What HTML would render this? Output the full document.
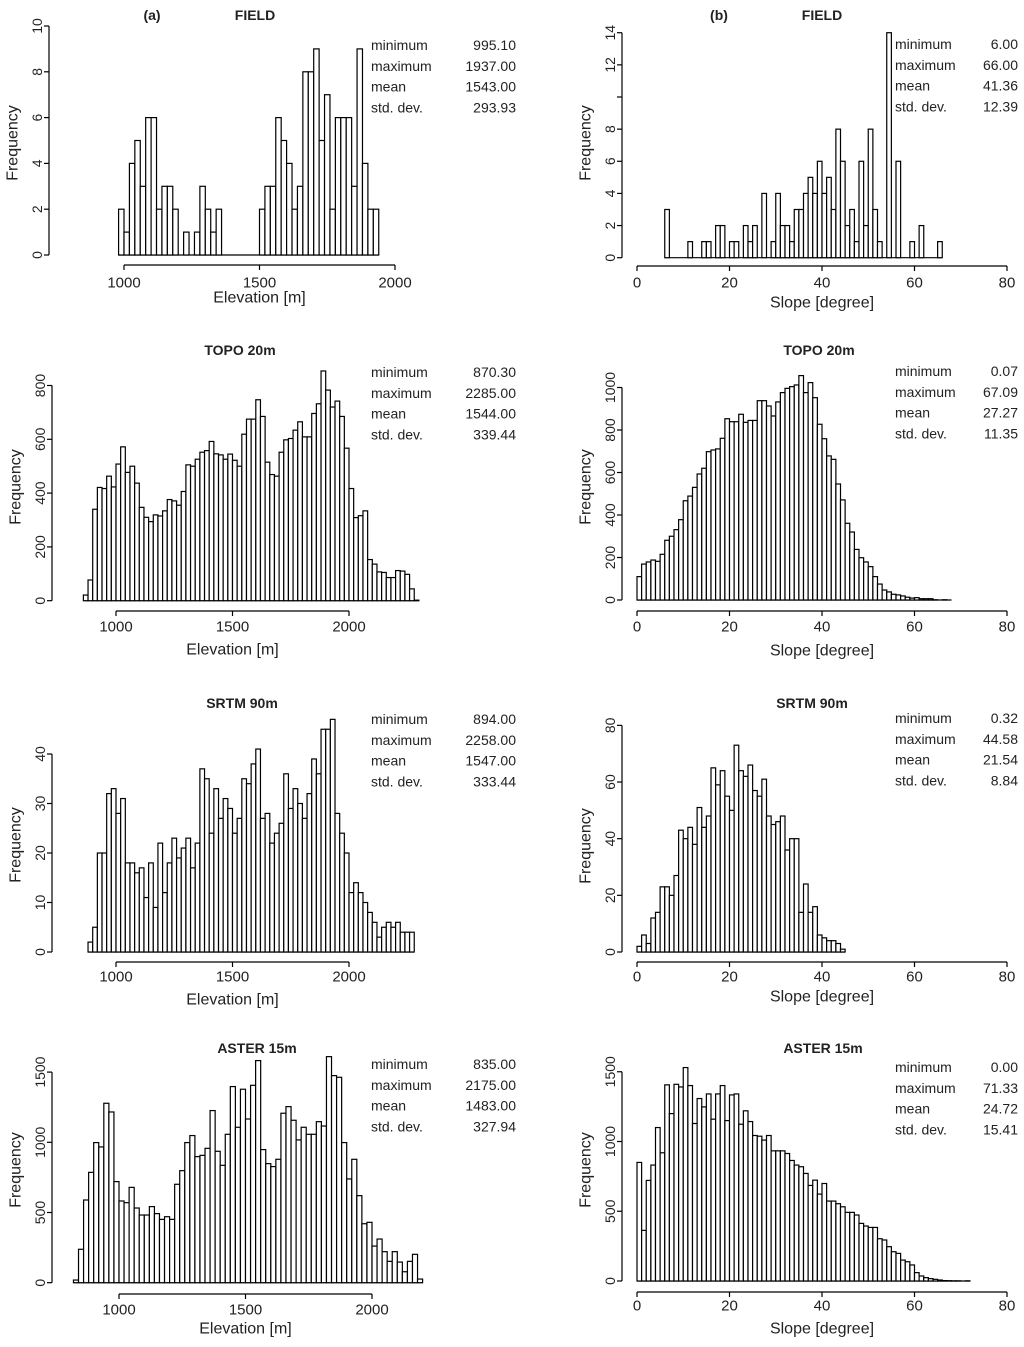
<!DOCTYPE html>
<html><head><meta charset="utf-8"><style>
body{margin:0;background:#fff}
svg{display:block;font-family:"Liberation Sans",sans-serif}
text{fill:#222}
</style></head><body>
<svg id="chart" width="1024" height="1347" viewBox="0 0 1024 1347" xmlns="http://www.w3.org/2000/svg">
<g id="g"></g>
</svg>
<script>
const fieldElev=[2,1,4,5,3,6,6,2,3,3,2,0,1,0,1,3,2,1,2,0,0,0,0,0,0,0,2,3,3,6,5,4,2,3,8,8,9,5,7,2,6,6,6,3,9,4,2,2];
const fieldSlope=[3,0,0,0,0,1,0,0,1,1,0,2,2,0,1,1,0,2,1,2,0,4,0,1,4,2,2,1,3,3,4,5,4,6,4,5,3,8,6,2,3,1,6,2,8,3,1,0,14,0,6,0,0,1,0,2,0,0,0,1];
const topoElev=[21,77,340,421,417,463,423,508,572,477,500,437,347,310,294,319,315,334,376,371,355,406,505,500,526,552,558,592,546,542,526,545,522,500,619,675,675,747,685,515,469,463,552,598,603,634,665,609,609,696,732,854,783,720,742,685,567,417,309,316,334,153,136,107,105,86,86,112,110,98,44,2];
const topoSlope=[110,169,179,188,182,215,281,300,331,378,467,489,530,593,620,698,706,711,761,853,839,839,874,836,845,845,938,938,913,866,932,976,996,1004,1012,1056,976,1023,952,827,759,678,662,546,471,361,320,238,199,179,157,110,75,47,38,27,24,19,13,9,11,6,6,6,1,0,1,0];
const srtmElev=[2,5,20,20,32,33,28,31,18,18,16,17,11,18,9,22,12,18,23,19,21,23,17,22,37,35,24,33,27,31,29,24,27,35,34,38,41,27,28,22,24,26,36,29,33,30,27,32,39,36,45,45,47,28,24,20,12,14,12,10,8,6,3,5,6,5,6,4,4,4];
const srtmSlope=[2,6,3,12,14,23,23,20,27,43,40,44,38,51,44,48,65,59,64,55,50,73,64,62,66,57,55,61,48,45,46,48,36,40,40,14,24,14,16,6,5,4,4,3,1];
const asterElev=[19,238,589,786,998,967,1278,1216,720,582,570,679,532,482,482,542,492,451,470,451,701,798,998,1048,898,907,957,1226,936,836,1057,1397,1107,1378,1166,1406,1582,948,848,827,879,1207,1254,1157,1017,1107,1057,1057,1147,1116,1610,1475,1463,998,739,879,620,420,430,261,311,221,152,221,147,78,152,202,26];
const asterSlope=[850,363,721,831,1100,919,1406,1200,1410,1391,1530,1401,1129,1308,1248,1341,1160,1341,1401,1150,1334,1341,1124,1220,1143,1043,1038,1010,1043,933,933,933,914,864,831,819,771,685,723,623,699,573,573,554,532,492,492,473,413,394,384,384,303,294,246,210,198,150,138,115,60,36,24,17,12,7,3,2,1,1,0,1];
const statLabels=["minimum","maximum","mean","std. dev."];
const statsFieldElev=["995.10","1937.00","1543.00","293.93"];
const statsFieldSlope=["6.00","66.00","41.36","12.39"];
const statsTopoElev=["870.30","2285.00","1544.00","339.44"];
const statsTopoSlope=["0.07","67.09","27.27","11.35"];
const statsSrtmElev=["894.00","2258.00","1547.00","333.44"];
const statsSrtmSlope=["0.32","44.58","21.54","8.84"];
const statsAsterElev=["835.00","2175.00","1483.00","327.94"];
const statsAsterSlope=["0.00","71.33","24.72","15.41"];
const elevTicks=[1000,1500,2000];
const slopeTicks=[0,20,40,60,80];

const NS="http://www.w3.org/2000/svg";
const G=document.getElementById('g');
function mk(tag,attrs,parent){const e=document.createElementNS(NS,tag);for(const k in attrs)e.setAttribute(k,attrs[k]);(parent||G).appendChild(e);return e;}
function txt(s,x,y,opt,parent){const t=mk('text',Object.assign({x:x,y:y,'dominant-baseline':'central','text-anchor':'middle','font-size':15},opt||{}),parent);t.textContent=s;return t;}

const panels=[
 {id:'field-elevation',title:'FIELD',tag:'(a)',tagX:152,titleX:255,titleY:15,data:fieldElev,start:980,w:20,x0:124,xv0:1000,kx:0.271,base:255,ky:22.9,yt:[0,2,4,6,8,10],yl:[0,2,4,6,8,10],ax:49,axisY:265,xt:elevTicks,xlY:283,xtitle:'Elevation [m]',xtY:298,freqY:143,stats:statsFieldElev,sx:371,sr:516,sy:45},
 {id:'field-slope',title:'FIELD',tag:'(b)',tagX:719,titleX:822,titleY:15,data:fieldSlope,start:6,w:1,x0:637,xv0:0,kx:4.625,base:257.7,ky:16.07,yt:[0,2,4,6,8,10,12,14],yl:[0,2,4,6,8,12,14],ax:622,axisY:266,xt:slopeTicks,xlY:283,xtitle:'Slope [degree]',xtY:303,freqY:143,stats:statsFieldSlope,sx:895,sr:1018,sy:44},
 {id:'topo-elevation',title:'TOPO 20m',titleX:240,titleY:350,data:topoElev,start:860,w:20,x0:116,xv0:1000,kx:0.233,base:600.7,ky:0.269,yt:[0,200,400,600,800],yl:[0,200,400,600,800],ax:52,axisY:611,xt:elevTicks,xlY:627,xtitle:'Elevation [m]',xtY:650,freqY:487,stats:statsTopoElev,sx:371,sr:516,sy:372},
 {id:'topo-slope',title:'TOPO 20m',titleX:819,titleY:350,data:topoSlope,start:0,w:1,x0:637,xv0:0,kx:4.625,base:600,ky:0.2125,yt:[0,200,400,600,800,1000],yl:[0,200,400,600,800,1000],ax:622,axisY:611,xt:slopeTicks,xlY:627,xtitle:'Slope [degree]',xtY:651,freqY:487,stats:statsTopoSlope,sx:895,sr:1018,sy:371},
 {id:'srtm-elevation',title:'SRTM 90m',titleX:242,titleY:703,data:srtmElev,start:880,w:20,x0:116,xv0:1000,kx:0.233,base:952,ky:4.95,yt:[0,10,20,30,40],yl:[0,10,20,30,40],ax:52,axisY:962,xt:elevTicks,xlY:977,xtitle:'Elevation [m]',xtY:1000,freqY:845,stats:statsSrtmElev,sx:371,sr:516,sy:719},
 {id:'srtm-slope',title:'SRTM 90m',titleX:812,titleY:703,data:srtmSlope,start:0,w:1,x0:637,xv0:0,kx:4.625,base:952,ky:2.833,yt:[0,20,40,60,80],yl:[0,20,40,60,80],ax:622,axisY:962,xt:slopeTicks,xlY:977,xtitle:'Slope [degree]',xtY:997,freqY:846,stats:statsSrtmSlope,sx:895,sr:1018,sy:718},
 {id:'aster-elevation',title:'ASTER 15m',titleX:257,titleY:1048,data:asterElev,start:820,w:20,x0:119,xv0:1000,kx:0.253,base:1282.7,ky:0.1404,yt:[0,500,1000,1500],yl:[0,500,1000,1500],ax:52,axisY:1294,xt:elevTicks,xlY:1310,xtitle:'Elevation [m]',xtY:1329,freqY:1170,stats:statsAsterElev,sx:371,sr:516,sy:1064},
 {id:'aster-slope',title:'ASTER 15m',titleX:823,titleY:1048,data:asterSlope,start:0,w:1,x0:637,xv0:0,kx:4.625,base:1281,ky:0.1395,yt:[0,500,1000,1500],yl:[0,500,1000,1500],ax:622,axisY:1292,xt:slopeTicks,xlY:1306,xtitle:'Slope [degree]',xtY:1329,freqY:1170,stats:statsAsterSlope,sx:895,sr:1018,sy:1067}
];

panels.forEach(p=>{
 const pg=mk('g',{});
 
 
 const X=v=>p.x0+(v-p.xv0)*p.kx;
 const Y=v=>p.base-v*p.ky;
 const t=txt(p.title,p.titleX,p.titleY,{'font-weight':'bold','font-size':14},pg);
 
 
 if(p.tag){const tg=txt(p.tag,p.tagX,p.titleY,{'font-weight':'bold','font-size':14},pg);
  
  }
 const bg=mk('g',{},pg);
 
 
 const bl=mk('line',{x1:X(p.start),x2:X(p.start+p.data.length*p.w),y1:p.base,y2:p.base,stroke:'#000','stroke-width':1.2},bg);
 
 
 p.data.forEach((v,i)=>{
  const x1=X(p.start+i*p.w),x2=X(p.start+(i+1)*p.w);
  const r=mk('rect',{x:x1,y:Y(v),width:x2-x1,height:p.base-Y(v),fill:'#fff',stroke:'#000','stroke-width':1.2},bg);
  
  
 });
 const ya=mk('g',{},pg);
 
 
 mk('line',{x1:p.ax,x2:p.ax,y1:Y(p.yt[0]),y2:Y(p.yt[p.yt.length-1]),stroke:'#000','stroke-width':1.2},ya);
 p.yt.forEach(v=>{mk('line',{x1:p.ax-5,x2:p.ax,y1:Y(v),y2:Y(v),stroke:'#000','stroke-width':1.2},ya);});
 p.yl.forEach(v=>{const lx=p.ax-12;const l=txt(String(v),lx,Y(v),{transform:`rotate(-90 ${lx} ${Y(v)})`,'font-size':14},ya);
  
  });
 const fx=p.ax-36;
 const fl=txt('Frequency',fx,p.freqY,{transform:`rotate(-90 ${fx} ${p.freqY})`,'font-size':16},ya);
 
 
 const xa=mk('g',{},pg);
 
 
 mk('line',{x1:X(p.xt[0]),x2:X(p.xt[p.xt.length-1]),y1:p.axisY,y2:p.axisY,stroke:'#000','stroke-width':1.2},xa);
 p.xt.forEach(v=>{mk('line',{x1:X(v),x2:X(v),y1:p.axisY,y2:p.axisY+5,stroke:'#000','stroke-width':1.2},xa);
  const l=txt(String(v),X(v),p.xlY,{'font-size':15},xa);
  
  });
 const xt=txt(p.xtitle,(X(p.xt[0])+X(p.xt[p.xt.length-1]))/2,p.xtY,{'font-size':16},xa);
 
 
 const sg=mk('g',{},pg);
 
 
 statLabels.forEach((s,i)=>{
  const yy=p.sy+i*20.8;
  const a=txt(s,p.sx,yy,{'text-anchor':'start','font-size':14},sg);
  
  
  const b=txt(p.stats[i],p.sr,yy,{'text-anchor':'end','font-size':14},sg);
  
  
 });
});
</script>
</body></html>
